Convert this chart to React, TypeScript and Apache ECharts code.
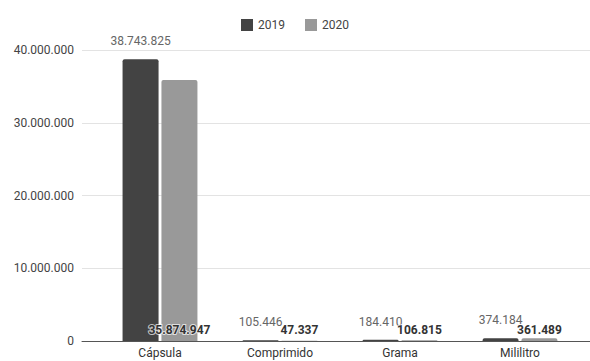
import React, { useEffect, useRef } from "react";
import * as echarts from "echarts";

const categories = ["Cápsula", "Comprimido", "Grama", "Mililitro"];
const values2019 = [38743825, 105446, 184410, 374184];
const values2020 = [35874947, 47337, 106815, 361489];
const yTicks = [0, 10000000, 20000000, 30000000, 40000000];

const fmt = (v: number) => String(Math.round(v)).replace(/\B(?=(\d{3})+(?!\d))/g, ".");

export default function App() {
  const ref = useRef<HTMLDivElement>(null);
  useEffect(() => {
    const chart = echarts.init(ref.current!, null, { renderer: "svg" });
    const yMax = yTicks[yTicks.length - 1];
    const interval = yTicks[1] - yTicks[0];
    chart.setOption({
      animation: false,
      textStyle: { fontFamily: "Roboto" },
      legend: {
        top: 14,
        left: "center",
        itemWidth: 12,
        itemHeight: 12,
        itemGap: 20,
        icon: "rect",
        textStyle: { color: "#444", fontSize: 12, fontFamily: "Roboto" },
        data: ["2019", "2020"],
      },
      grid: [
        { left: 82, right: 0, top: 50, bottom: 20 },
        { left: 100, right: 10, top: 50, bottom: 20 },
      ],
      xAxis: [
        {
          gridIndex: 0,
          type: "category",
          data: categories,
          axisLine: { show: true, lineStyle: { color: "#555", width: 1 } },
          axisTick: { show: false },
          axisLabel: { show: false },
        },
        {
          gridIndex: 1,
          type: "category",
          data: categories,
          axisLine: { show: false },
          axisTick: { show: false },
          axisLabel: { color: "#333", fontSize: 12, margin: 6, fontFamily: "Roboto" },
        },
      ],
      yAxis: [
        {
          gridIndex: 0,
          type: "value",
          min: 0,
          max: yMax,
          interval,
          axisLine: { show: false },
          axisTick: { show: false },
          splitLine: { lineStyle: { color: "#e3e3e3" } },
          axisLabel: { color: "#444", fontSize: 12, margin: 8, formatter: (v: number) => fmt(v), fontFamily: "Roboto" },
        },
        {
          gridIndex: 1,
          type: "value",
          min: 0,
          max: yMax,
          interval,
          show: false,
        },
      ],
      series: [
        {
          name: "2019",
          type: "bar",
          xAxisIndex: 1,
          yAxisIndex: 1,
          data: values2019,
          barWidth: 36,
          barGap: "8%",
          itemStyle: { color: "#434343", borderRadius: [2, 2, 0, 0] },
          label: {
            show: true,
            position: "top",
            distance: 12,
            color: "#666",
            fontSize: 12,
            fontFamily: "Roboto",
            formatter: (p: any) => fmt(p.value),
          },
        },
        {
          name: "2020",
          type: "bar",
          xAxisIndex: 1,
          yAxisIndex: 1,
          data: values2020,
          barWidth: 36,
          barGap: "8%",
          itemStyle: { color: "#999999", borderRadius: [2, 2, 0, 0] },
          label: {
            show: true,
            position: "insideBottom",
            distance: 5,
            color: "#333",
            fontSize: 12,
            fontWeight: "bold",
            fontFamily: "Roboto",
            textBorderColor: "rgba(255,255,255,0.7)",
            textBorderWidth: 2,
            formatter: (p: any) => fmt(p.value),
          },
        },
      ],
    });
    return () => chart.dispose();
  }, []);
  return <div ref={ref} style={{ width: 590, height: 361, position: "absolute", left: 0, top: 0 }} />;
}
